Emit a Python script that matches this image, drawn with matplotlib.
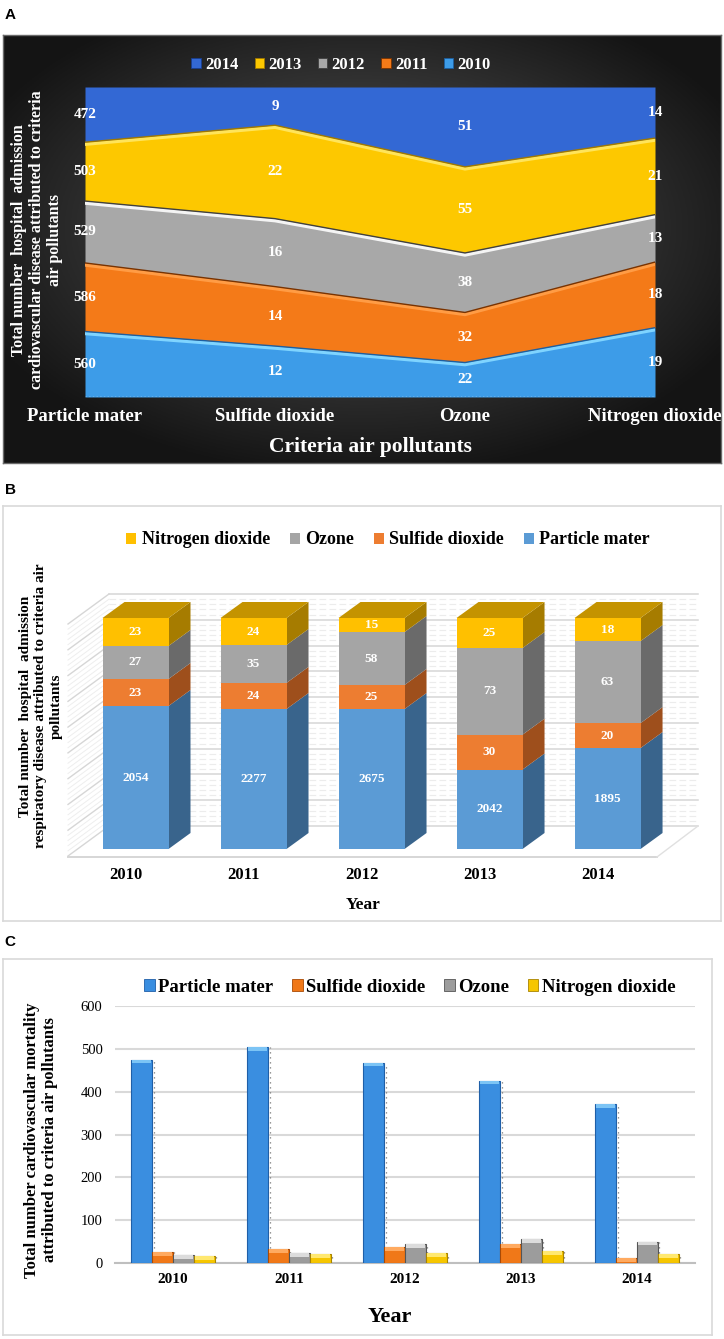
import numpy as np
import matplotlib
matplotlib.use("Agg")
import matplotlib.pyplot as plt
from matplotlib.patches import Rectangle, Polygon
import matplotlib.transforms as mtransforms

# ---------------- data ----------------
# Panel A: hospital admission, cardiovascular disease (100% stacked area)
pollutants = ["Particle mater", "Sulfide dioxide", "Ozone", "Nitrogen dioxide"]
a_years = ["2010", "2011", "2012", "2013", "2014"]
a_2010 = [560, 12, 22, 19]
a_2011 = [586, 14, 32, 18]
a_2012 = [529, 16, 38, 13]
a_2013 = [503, 22, 55, 21]
a_2014 = [472, 9, 51, 14]

# Panel B: hospital admission, respiratory disease (stacked 3-D columns)
years = ["2010", "2011", "2012", "2013", "2014"]
b_pm_label = [2054, 2277, 2675, 2042, 1895]
b_so2_label = [23, 24, 25, 30, 20]
b_o3_label = [27, 35, 58, 73, 63]
b_no2_label = [23, 24, 15, 25, 18]
# share of the column height (%) as drawn in the figure
b_pm_share = [61.9, 60.6, 60.6, 34.4, 43.7]
b_so2_share = [11.7, 11.3, 10.4, 15.1, 10.8]
b_o3_share = [14.3, 16.4, 22.9, 37.5, 35.5]
b_no2_share = [12.1, 11.7, 6.1, 13.0, 10.0]

# Panel C: cardiovascular mortality (clustered columns)
c_pm = [475, 505, 468, 426, 371]
c_so2 = [25, 32, 37, 44, 11]
c_o3 = [18, 23, 44, 56, 50]
c_no2 = [17, 21, 23, 28, 20]
c_yticks = [0, 100, 200, 300, 400, 500, 600]

# ---------------- figure ----------------
W, H = 724, 1339
fig = plt.figure(figsize=(W / 100, H / 100), dpi=100)
fig.patch.set_facecolor("white")
SERIF = ["Liberation Serif", "DejaVu Serif"]
plt.rcParams["font.family"] = SERIF


def pax(x0, y0, x1, y1, **kw):
    return fig.add_axes([x0 / W, 1 - y1 / H, (x1 - x0) / W, (y1 - y0) / H], **kw)


def ftext(x, y, s, **kw):
    return fig.text(x / W, 1 - y / H, s, **kw)


def box(x0, y0, x1, y1, ec="#d9d9d9"):
    a = pax(x0, y0, x1, y1)
    a.set_xticks([]); a.set_yticks([])
    for s in a.spines.values():
        s.set_color(ec); s.set_linewidth(1.2)
    return a


for lab, yy in (("A", 15), ("B", 490), ("C", 942)):
    ftext(10, yy, lab, family=["Liberation Sans", "DejaVu Sans"], weight="bold",
          fontsize=11, ha="center", va="center")

# ================= Panel A =================
bg = pax(3, 35, 721, 463)
gx, gy = np.meshgrid(np.linspace(-1, 1, 300), np.linspace(-1, 1, 200))
r = np.sqrt((gx / 1.0) ** 2 + ((gy + 0.1) / 1.0) ** 2)
shade = np.clip(0.36 - 0.24 * r, 0.08, 1)
bg.imshow(np.dstack([shade, shade, shade]), aspect="auto", extent=(0, 1, 0, 1))
bg.set_xticks([]); bg.set_yticks([])
for s in bg.spines.values():
    s.set_color("#6a6a6a"); s.set_linewidth(1.0)

axA = pax(85, 87, 655, 397)
axA.patch.set_alpha(0)
layers = [a_2010, a_2011, a_2012, a_2013, a_2014]
fills = ["#3d9ce8", "#f47a18", "#a8a8a8", "#fdc800", "#3368d4"]
hls = ["#7fd4ff", "#ff9c45", "#f4f4f4", "#ffe45a", "#5a8df0"]
darks = ["#1d5fa0", "#7a3300", "#404040", "#a07800", "#183e90"]
totals = np.sum(np.array(layers, dtype=float), axis=0)
xs = np.arange(len(pollutants))
lower = np.zeros(len(pollutants))
hl_tr = mtransforms.offset_copy(axA.transData, fig=fig, x=0, y=-2, units="dots")
for vals, fc, hc, dc in zip(layers, fills, hls, darks):
    frac = np.array(vals) / totals
    upper = lower + frac
    axA.fill_between(xs, lower, upper, color=fc, lw=0, zorder=2)
    if upper.max() < 0.999:
        axA.plot(xs, upper, color=hc, lw=2.5, transform=hl_tr, zorder=3,
                 solid_joinstyle="round")
        axA.plot(xs, upper, color=dc, lw=1.0, zorder=3)
    for i, v in enumerate(vals):
        axA.text(xs[i], (lower[i] + upper[i]) / 2, str(v), color="white",
                 fontsize=11, weight="bold", ha="center", va="center", zorder=5)
    lower = upper
axA.plot(xs, np.zeros(len(xs)), color="white", lw=1, ls=":", zorder=4)
axA.set_xlim(0, len(pollutants) - 1)
axA.set_ylim(0, 1)
axA.set_xticks(xs)
axA.set_xticklabels(pollutants, color="white", fontsize=13.5, weight="bold")
axA.tick_params(axis="x", length=0, pad=8)
axA.set_yticks([])
for s in axA.spines.values():
    s.set_visible(False)

handlesA = [Rectangle((0, 0), 1, 1, fc=fills[k], ec=darks[k], lw=0.6) for k in range(4, -1, -1)]
fig.legend(handlesA, [a_years[k] for k in range(4, -1, -1)], loc="center",
           bbox_to_anchor=(341 / W, 1 - 65 / H), ncol=5, frameon=False,
           labelcolor="white", prop={"family": SERIF, "weight": "bold", "size": 12},
           handlelength=0.55, handleheight=0.55, handletextpad=0.25, columnspacing=1.0)
ftext(370, 447, "Criteria air pollutants", color="white", fontsize=15.5,
      weight="bold", ha="center", va="center")
ftext(37, 240, "Total number  hospital  admission\ncardiovascular disease attributed to criteria\nair pollutants",
      color="white", fontsize=11.5, weight="bold", ha="center", va="center",
      rotation=90, linespacing=1.15)

# ================= Panel B =================
box(3, 506, 721, 921)
deco = pax(3, 506, 721, 921)
deco.set_xlim(3, 721); deco.set_ylim(921, 506)
deco.axis("off"); deco.patch.set_alpha(0)
wall_top, wall_bot, wall_l, wall_r = 594, 826, 109, 698
step = (wall_bot - wall_top) / 9
for k in range(10):
    yk = wall_top + k * step
    deco.plot([wall_l, wall_r], [yk, yk], color="#d6d6d6", lw=1.1)
    deco.plot([68, wall_l], [yk + 30, yk], color="#d6d6d6", lw=1.0)
    if k < 9:
        for m in range(1, 5):
            ym = yk + m * step / 5
            deco.plot([wall_l, wall_r], [ym, ym], color="#ececec", lw=0.8, ls=(0, (6, 3)))
            deco.plot([68, wall_l], [ym + 30, ym], color="#eeeeee", lw=0.7)
deco.plot([68, 657], [857, 857], color="#d6d6d6", lw=1.4)
deco.plot([657, wall_r], [857, wall_bot], color="#e0e0e0", lw=1.0)

axB = pax(67, 594, 699, 857)
axB.patch.set_alpha(0)
axB.set_xlim(-0.5805, 4.775)
axB.set_ylim(-3.46, 110.39)
axB.axis("off")
xpx = (699 - 67) / (4.775 + 0.5805)
ypx = (857 - 594) / (110.39 + 3.46)
dx, dy = 22 / xpx, 16 / ypx
bw = 66 / xpx
seriesB = [
    (b_pm_share, b_pm_label, "#5b9bd5", "#39648c"),
    (b_so2_share, b_so2_label, "#ed7d31", "#9e4f1c"),
    (b_o3_share, b_o3_label, "#a5a5a5", "#6a6a6a"),
    (b_no2_share, b_no2_label, "#ffc000", "#a67c00"),
]
xb = np.arange(len(years))
bottoms = np.zeros(len(years))
for shares, labs, fc, sc in seriesB:
    sh = np.array(shares, dtype=float)
    axB.bar(xb, sh, bw, bottom=bottoms, color=fc, lw=0, zorder=3)
    for i in range(len(years)):
        lo, hi = bottoms[i], bottoms[i] + sh[i]
        xr = xb[i] + bw / 2
        axB.add_patch(Polygon([(xr, lo), (xr + dx, lo + dy), (xr + dx, hi + dy), (xr, hi)],
                              closed=True, fc=sc, ec="none", zorder=2))
        axB.text(xb[i], (lo + hi) / 2, f"{labs[i]}", color="white", fontsize=9.5,
                 weight="bold", ha="center", va="center", zorder=5)
    bottoms = bottoms + sh
for i in range(len(years)):
    t = bottoms[i]
    xl = xb[i] - bw / 2
    axB.add_patch(Polygon([(xl, t), (xl + dx, t + dy), (xl + bw + dx, t + dy), (xl + bw, t)],
                          closed=True, fc="#c49300", ec="none", zorder=3))
    axB.text(xb[i] - 10 / xpx, -3.46 - 18 / ypx, years[i], fontsize=12, weight="bold",
             ha="center", va="center")

handlesB = [Rectangle((0, 0), 1, 1, fc=c) for c in ("#ffc000", "#a5a5a5", "#ed7d31", "#5b9bd5")]
fig.legend(handlesB, ["Nitrogen dioxide", "Ozone", "Sulfide dioxide", "Particle mater"],
           loc="center", bbox_to_anchor=(388 / W, 1 - 540 / H), ncol=4, frameon=False,
           prop={"family": SERIF, "weight": "bold", "size": 13},
           handlelength=0.55, handleheight=0.55, handletextpad=0.3, columnspacing=1.1)
ftext(363, 905, "Year", fontsize=12.5, weight="bold", ha="center", va="center")
ftext(41, 706, "Total number  hospital  admission\nrespiratory disease attributed to criteria air\npollutants",
      fontsize=11, weight="bold", ha="center", va="center", rotation=90, linespacing=1.2)

# ================= Panel C =================
box(3, 959, 712, 1335)
axC = pax(115, 1006, 695, 1263)
xc = np.arange(len(years))
cw = 0.18
seriesC = [
    (c_pm, "#3a8ee0", "#1f5fa8", "#7cc4f5", "Particle mater"),
    (c_so2, "#f07818", "#a94a05", "#ffaa60", "Sulfide dioxide"),
    (c_o3, "#9c9c9c", "#555555", "#dcdcdc", "Ozone"),
    (c_no2, "#f6c600", "#a88400", "#ffe870", "Nitrogen dioxide"),
]
handlesC = []
for k, (vals, fc, ec, cap, lab) in enumerate(seriesC):
    off = (k - 1.5) * cw
    v = np.array(vals, dtype=float)
    axC.bar(xc + off, v, cw, color=fc, edgecolor=ec, lw=0.8, zorder=3)
    capv = np.minimum(v, 9.0)
    axC.bar(xc + off, capv, cw * 0.9, bottom=v - capv, color=cap, lw=0, zorder=4)
    axC.vlines(xc + off + cw / 2 + 0.012, 0, v, colors="#777777", lw=0.9,
               linestyles=(0, (1, 3)), zorder=2)
    handlesC.append(Rectangle((0, 0), 1, 1, fc=fc, ec=ec, lw=0.6))
axC.set_xlim(-0.5, len(years) - 0.5)
axC.set_ylim(c_yticks[0], c_yticks[-1])
axC.set_yticks(c_yticks)
axC.set_yticklabels([str(t) for t in c_yticks], fontsize=10.5)
axC.set_xticks(xc)
axC.set_xticklabels(years, fontsize=11, weight="bold")
axC.tick_params(axis="y", length=0, pad=9)
axC.tick_params(axis="x", length=0, pad=7)
axC.grid(axis="y", color="#d9d9d9", lw=1.5, zorder=0)
axC.set_axisbelow(True)
for s in ("top", "right", "left"):
    axC.spines[s].set_visible(False)
axC.spines["bottom"].set_color("#bfbfbf")
axC.spines["bottom"].set_linewidth(1.5)
fig.legend(handlesC, [s[4] for s in seriesC], loc="center",
           bbox_to_anchor=(410 / W, 1 - 987 / H), ncol=4, frameon=False,
           prop={"family": SERIF, "weight": "bold", "size": 13.5},
           handlelength=0.55, handleheight=0.55, handletextpad=0.2, columnspacing=1.0)
ftext(390, 1317, "Year", fontsize=16, weight="bold", ha="center", va="center")
ftext(41, 1140, "Total number cardiovascular mortality\nattributed to criteria air pollutants",
      fontsize=12, weight="bold", ha="center", va="center", rotation=90, linespacing=1.15)

fig.savefig("out.png", dpi=100, facecolor="white")
